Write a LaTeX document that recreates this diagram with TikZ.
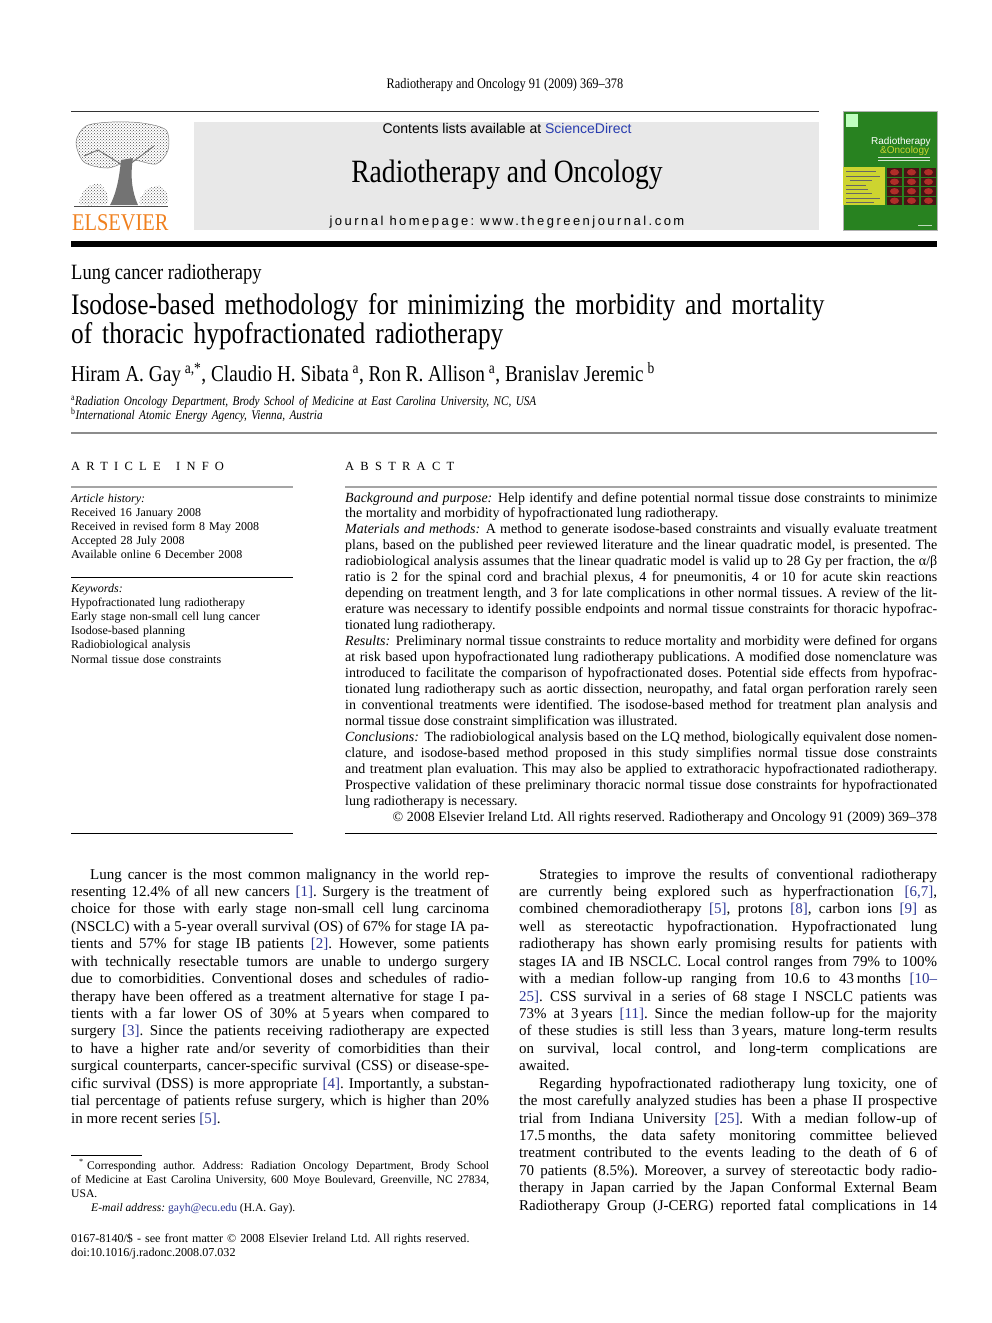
\documentclass[tikz,border=0pt]{standalone}
\usepackage{fontspec}
\setmainfont{Liberation Serif}
\setsansfont{Liberation Sans}
\newfontfamily\condfont[Ligatures=TeX, FakeStretch=0.85]{Liberation Serif}
\newfontfamily\spacedfont[LetterSpace=50]{Liberation Serif}
\newfontfamily\homefont[LetterSpace=19]{Liberation Sans}
\usepackage{tikz}
\usetikzlibrary{positioning, patterns}

\definecolor{elsorange}{RGB}{240,128,30}
\definecolor{linkblue}{RGB}{45,55,150}
\definecolor{sdblue}{RGB}{40,60,175}
\definecolor{boxgray}{RGB}{232,232,232}
\definecolor{rulegray}{RGB}{165,165,165}
\definecolor{covergreen}{RGB}{40,130,32}
\definecolor{coveryellow}{RGB}{205,212,48}
\definecolor{coverdark}{RGB}{70,20,20}
\definecolor{coverred}{RGB}{175,45,40}

\newcommand{\refnum}[1]{\textcolor{linkblue}{[#1]}}
\newcommand{\bodysize}{\fontsize{15pt}{17.43pt}\selectfont}
\newcommand{\abssize}{\fontsize{14pt}{15.95pt}\selectfont}
\newcommand{\infosize}{\fontsize{12pt}{14.22pt}\selectfont}
\newcommand{\notesize}{\fontsize{11.6pt}{14.3pt}\selectfont}

\frenchspacing
\tolerance=9999
\hbadness=10000
\hfuzz=3pt
\hyphenpenalty=10000
\exhyphenpenalty=10000

\begin{document}
\begin{tikzpicture}
	[x=1pt, y=-1pt,
	txt/.style={inner sep=0pt, anchor=base west},
	ctxt/.style={inner sep=0pt, anchor=base},
	bodypara/.style={inner sep=0pt, anchor=base west, align=justify, text width=#1},
	listtext/.style={inner sep=0pt, anchor=base west, align=left, text width=#1},
	thinrule/.style={line width=0.6pt},
	grayrule/.style={line width=1.5pt, rulegray}]
	\path[use as bounding box, fill=white] (0,0) rectangle (992,1323);

	% masthead %
	\node[ctxt, font={\condfont\fontsize{14.5pt}{16pt}\selectfont}] (runhead) at (505,88) {Radiotherapy and Oncology 91 (2009) 369–378};
	\draw[line width=1pt, black!80] (71,111) -- (819,111);
	\fill[boxgray] (194,122) rectangle (819,230);
	\node[ctxt, font={\sffamily\fontsize{14pt}{15pt}\selectfont}] (contents) at (507,133) {Contents lists available at \textcolor{sdblue}{ScienceDirect}};
	\node[ctxt, font={\condfont\fontsize{32.5pt}{34pt}\selectfont}] (journal) at (507,182) {Radiotherapy and Oncology};
	\node[ctxt, font={\homefont\fontsize{13pt}{14pt}\selectfont}] (homepage) at (507,225) {journal homepage: www.thegreenjournal.com};

	% publisher tree %
	\fill[pattern=crosshatch dots, pattern color=black!70] plot[smooth cycle] coordinates {(76,142) (86,126) (112,122) (142,123) (166,130) (168,150) (156,164) (132,160) (108,168) (84,162)};
	\draw[black!50, line width=0.5pt] plot[smooth cycle] coordinates {(76,142) (86,126) (112,122) (142,123) (166,130) (168,150) (156,164) (132,160) (108,168) (84,162)};
	\fill[black!55] (121,160) .. controls (119,182) and (115,196) .. (110,205) -- (138,205) .. controls (132,192) and (130,176) .. (133,158) -- cycle;
	\draw[black!55, line width=1pt] (124,166) -- (98,150) (130,164) -- (154,146) (98,150) -- (84,156);
	\fill[pattern=crosshatch dots, pattern color=black!70] plot[smooth cycle] coordinates {(80,204) (86,188) (100,184) (108,196) (106,204)};
	\fill[pattern=crosshatch dots, pattern color=black!70] plot[smooth cycle] coordinates {(140,204) (146,190) (160,186) (168,196) (166,204)};
	\draw[black!70, line width=1pt] (74,206) -- (168,206);
	\node[txt, font={\condfont\fontsize{24pt}{26pt}\selectfont}, text=elsorange] (elsevier) at (72,230) {ELSEVIER};

	% cover %
	\fill[covergreen] (843,111) rectangle (937,230);
	\draw[black!30, line width=0.4pt] (843,111) rectangle (937,230);
	\fill[green!25!white] (846,114) rectangle (858,127);
	\node[txt, font={\sffamily\fontsize{10pt}{11pt}\selectfont}, text=white] (covtitle) at (871,144) {Radiotherapy};
	\node[txt, font={\sffamily\fontsize{10pt}{11pt}\selectfont}, text=coveryellow] (covsub) at (880,153) {\&Oncology};
	\draw[white!80!covergreen, line width=0.5pt] (878,157) -- (930,157) (878,160) -- (930,160);
	\fill[coveryellow] (843,167) rectangle (885,205);
	\draw[black!60, line width=0.6pt] (846,171) -- (876,171) (846,176) -- (880,176) (850,180) -- (872,180) (846,185) -- (866,185) (846,189) -- (868,189) (846,193) -- (872,193) (846,198) -- (880,198) (846,202) -- (874,202);
	\foreach \cx in {887,904,921}
		\foreach \cy in {168,177.5,187,196.5} {
			\fill[coverdark] (\cx,\cy) rectangle ++(15,8.5);
			\fill[coverred] (\cx+7.5,\cy+4.25) ellipse (4.5 and 3.2);
		}
	\draw[white!70!covergreen, line width=0.5pt] (918,225) -- (932,225);

	\draw[line width=5.5pt] (71,244) -- (937,244);

	% title block %
	\node[txt, font={\condfont\fontsize{21.8pt}{23pt}\selectfont}] (section) at (71,279) {Lung cancer radiotherapy};
	\node[listtext=900pt, font={\condfont\fontsize{29.8pt}{29pt}\selectfont}] (title) at (71,314) {Isodose-based methodology for minimizing the morbidity and mortality\\of thoracic hypofractionated radiotherapy};
	\node[txt, font={\condfont\fontsize{22.7pt}{25pt}\selectfont}] (authors) at (71,381) {Hiram A. Gay\,\textsuperscript{a,*}, Claudio H. Sibata\,\textsuperscript{a}, Ron R. Allison\,\textsuperscript{a}, Branislav Jeremic\,\textsuperscript{b}};
	\node[listtext=880pt, font={\condfont\fontsize{13.2pt}{14pt}\selectfont}] (affil) at (71,405) {\textsuperscript{a}\textit{Radiation Oncology Department, Brody School of Medicine at East Carolina University, NC, USA}\\\textsuperscript{b}\textit{International Atomic Energy Agency, Vienna, Austria}};
	\draw[line width=1.3pt, black!45] (71,433) -- (937,433);

	% article info %
	\node[txt, font={\spacedfont\fontsize{12.5pt}{14pt}\selectfont}] (infohead) at (71,470) {ARTICLE\hspace{6pt} INFO};
	\draw[grayrule] (71,487) -- (293,487);
	\node[listtext=222pt, font=\infosize] (history) at (71,502) {\textit{Article history:}\\Received 16 January 2008\\Received in revised form 8 May 2008\\Accepted 28 July 2008\\Available online 6 December 2008};
	\draw[thinrule] (71,577) -- (293,577);
	\node[listtext=222pt, font=\infosize] (keywords) at (71,592) {\textit{Keywords:}\\Hypofractionated lung radiotherapy\\Early stage non-small cell lung cancer\\Isodose-based planning\\Radiobiological analysis\\Normal tissue dose constraints};
	\draw[thinrule] (71,833) -- (293,833);

	% abstract %
	\node[txt, font={\spacedfont\fontsize{12.5pt}{14pt}\selectfont}] (abshead) at (345,470) {ABSTRACT};
	\draw[grayrule] (345,487) -- (937,487);
	\node[bodypara=592pt, font=\abssize] (abstract) at (345,502) {\textit{Background and purpose:}\hspace{0.4em}Help identify and define potential normal tissue dose constraints to minimize \linebreak the mortality and morbidity of hypofractionated lung radiotherapy.\par
	\textit{Materials and methods:}\hspace{0.4em}A method to generate isodose-based constraints and visually evaluate treatment \linebreak plans, based on the published peer reviewed literature and the linear quadratic model, is presented. The \linebreak radiobiological analysis assumes that the linear quadratic model is valid up to 28 Gy per fraction, the α/β \linebreak ratio is 2 for the spinal cord and brachial plexus, 4 for pneumonitis, 4 or 10 for acute skin reactions \linebreak depending on treatment length, and 3 for late complications in other normal tissues. A review of the lit-\linebreak erature was necessary to identify possible endpoints and normal tissue constraints for thoracic hypofrac-\linebreak tionated lung radiotherapy.\par
	\textit{Results:}\hspace{0.4em}Preliminary normal tissue constraints to reduce mortality and morbidity were defined for organs \linebreak at risk based upon hypofractionated lung radiotherapy publications. A modified dose nomenclature was \linebreak introduced to facilitate the comparison of hypofractionated doses. Potential side effects from hypofrac-\linebreak tionated lung radiotherapy such as aortic dissection, neuropathy, and fatal organ perforation rarely seen \linebreak in conventional treatments were identified. The isodose-based method for treatment plan analysis and \linebreak normal tissue dose constraint simplification was illustrated.\par
	\textit{Conclusions:}\hspace{0.4em}The radiobiological analysis based on the LQ method, biologically equivalent dose nomen-\linebreak clature, and isodose-based method proposed in this study simplifies normal tissue dose constraints \linebreak and treatment plan evaluation. This may also be applied to extrathoracic hypofractionated radiotherapy. \linebreak Prospective validation of these preliminary thoracic normal tissue dose constraints for hypofractionated \linebreak lung radiotherapy is necessary.\par
	\hfill © 2008 Elsevier Ireland Ltd. All rights reserved. Radiotherapy and Oncology 91 (2009) 369--378};
	\draw[thinrule] (345,833) -- (937,833);

	% body columns %
	\node[bodypara=418pt, font=\bodysize] (leftcol) at (71,879) {\hspace*{19pt}Lung cancer is the most common malignancy in the world rep-\linebreak resenting 12.4\% of all new cancers \refnum{1}. Surgery is the treatment of \linebreak choice for those with early stage non-small cell lung carcinoma \linebreak (NSCLC) with a 5-year overall survival (OS) of 67\% for stage IA pa-\linebreak tients and 57\% for stage IB patients \refnum{2}. However, some patients \linebreak with technically resectable tumors are unable to undergo surgery \linebreak due to comorbidities. Conventional doses and schedules of radio-\linebreak therapy have been offered as a treatment alternative for stage I pa-\linebreak tients with a far lower OS of 30\% at 5\,years when compared to \linebreak surgery \refnum{3}. Since the patients receiving radiotherapy are expected \linebreak to have a higher rate and/or severity of comorbidities than their \linebreak surgical counterparts, cancer-specific survival (CSS) or disease-spe-\linebreak cific survival (DSS) is more appropriate \refnum{4}. Importantly, a substan-\linebreak tial percentage of patients refuse surgery, which is higher than 20\% \linebreak in more recent series \refnum{5}.};
	\node[bodypara=418pt, font=\bodysize] (rightcol) at (519,879) {\hspace*{20pt}Strategies to improve the results of conventional radiotherapy \linebreak are currently being explored such as hyperfractionation \refnum{6,7}, \linebreak combined chemoradiotherapy \refnum{5}, protons \refnum{8}, carbon ions \refnum{9} as \linebreak well as stereotactic hypofractionation. Hypofractionated lung \linebreak radiotherapy has shown early promising results for patients with \linebreak stages IA and IB NSCLC. Local control ranges from 79\% to 100\% \linebreak with a median follow-up ranging from 10.6 to 43\,months \textcolor{linkblue}{[10--}\linebreak\textcolor{linkblue}{25]}. CSS survival in a series of 68 stage I NSCLC patients was \linebreak 73\% at 3\,years \refnum{11}. Since the median follow-up for the majority \linebreak of these studies is still less than 3\,years, mature long-term results \linebreak on survival, local control, and long-term complications are \linebreak awaited.\par
	\hspace*{20pt}Regarding hypofractionated radiotherapy lung toxicity, one of \linebreak the most carefully analyzed studies has been a phase II prospective \linebreak trial from Indiana University \refnum{25}. With a median follow-up of \linebreak 17.5\,months, the data safety monitoring committee believed \linebreak treatment contributed to the events leading to the death of 6 of \linebreak 70 patients (8.5\%). Moreover, a survey of stereotactic body radio-\linebreak therapy in Japan carried by the Japan Conformal External Beam \linebreak Radiotherapy Group (J-CERG) reported fatal complications in 14{\parfillskip=0pt\par}};

	% footnotes %
	\draw[line width=0.5pt] (71,1155) -- (142,1155);
	\node[bodypara=418pt, font=\notesize] (corresp) at (71,1169) {\hspace*{8pt}\textsuperscript{*}\hspace{0.3em}Corresponding author. Address: Radiation Oncology Department, Brody School \linebreak of Medicine at East Carolina University, 600 Moye Boulevard, Greenville, NC 27834, \linebreak USA.\par
	\hspace*{20pt}\textit{E-mail address:} \textcolor{linkblue}{gayh@ecu.edu} (H.A. Gay).};
	\node[listtext=418pt, font={\fontsize{12.1pt}{14pt}\selectfont}] (frontmatter) at (71,1242) {0167-8140/\$ - see front matter © 2008 Elsevier Ireland Ltd. All rights reserved.\\doi:10.1016/j.radonc.2008.07.032};
\end{tikzpicture}
\end{document}
